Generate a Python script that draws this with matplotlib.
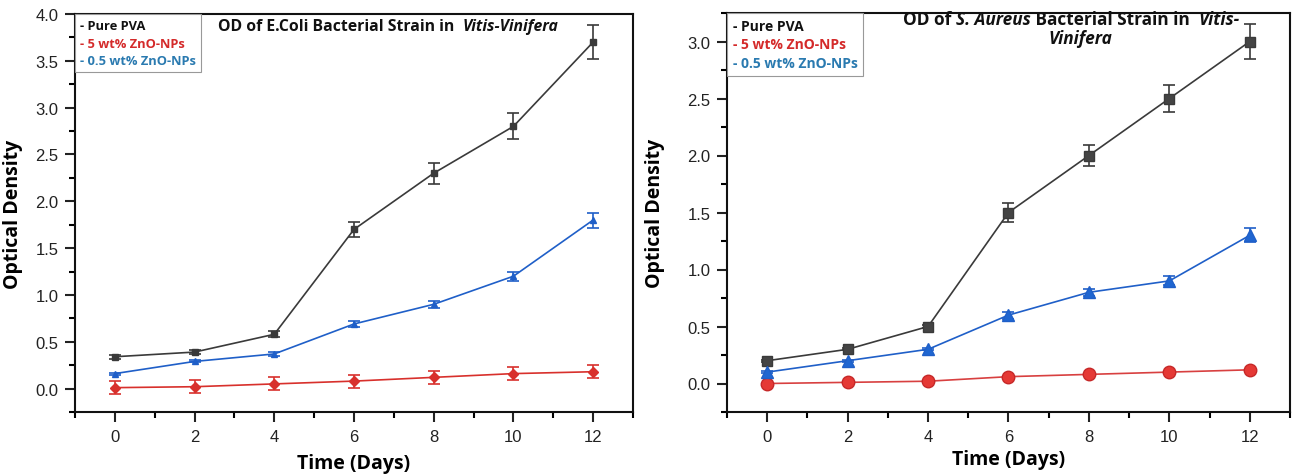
import matplotlib
matplotlib.use("Agg")
import matplotlib.pyplot as plt
from matplotlib.ticker import MultipleLocator

days = [0, 2, 4, 6, 8, 10, 12]

# E. coli
pva_ecoli = [0.34, 0.39, 0.58, 1.70, 2.30, 2.80, 3.70]
pva_ecoli_err = [0.02, 0.02, 0.03, 0.08, 0.11, 0.14, 0.18]
zno5_ecoli = [0.01, 0.02, 0.05, 0.08, 0.12, 0.16, 0.18]
zno5_ecoli_err = [0.07, 0.07, 0.07, 0.07, 0.07, 0.07, 0.07]
zno05_ecoli = [0.16, 0.29, 0.37, 0.69, 0.90, 1.20, 1.80]
zno05_ecoli_err = [0.01, 0.01, 0.02, 0.03, 0.04, 0.05, 0.08]

# S. aureus
pva_saureus = [0.20, 0.30, 0.50, 1.50, 2.00, 2.50, 3.00]
pva_saureus_err = [0.01, 0.01, 0.01, 0.08, 0.09, 0.12, 0.15]
zno5_saureus = [0.00, 0.01, 0.02, 0.06, 0.08, 0.10, 0.12]
zno5_saureus_err = [0.005, 0.005, 0.005, 0.005, 0.005, 0.005, 0.005]
zno05_saureus = [0.10, 0.20, 0.30, 0.60, 0.80, 0.90, 1.30]
zno05_saureus_err = [0.01, 0.01, 0.01, 0.03, 0.03, 0.04, 0.06]

labels = ["- Pure PVA", "- 5 wt% ZnO-NPs", "- 0.5 wt% ZnO-NPs"]
label_colors = ["#111111", "#d42a2a", "#2a7ab0"]

BLACK = "#3a3a3a"
RED = "#d8302c"
BLUE = "#1f5fc8"
BOLD = "Open Sans"
TICKF = "Liberation Sans"

W, H = 1293, 477
fig = plt.figure(figsize=(W / 100, H / 100), dpi=100)


def px(x0, y0, x1, y1):
    return [x0 / W, 1 - y1 / H, (x1 - x0) / W, (y1 - y0) / H]


def style_axes(ax, ylim, xpad):
    ax.set_xlim(-1, 13)
    ax.set_ylim(*ylim)
    ax.xaxis.set_major_locator(MultipleLocator(2))
    ax.xaxis.set_minor_locator(MultipleLocator(1))
    ax.yaxis.set_major_locator(MultipleLocator(0.5))
    ax.yaxis.set_minor_locator(MultipleLocator(0.25))
    ax.tick_params(which="major", direction="out", length=7, width=1.5,
                   labelsize=12, colors="#222222", pad=5)
    ax.tick_params(which="minor", direction="out", length=4, width=1.5)
    for lab in ax.get_xticklabels() + ax.get_yticklabels():
        lab.set_fontfamily(TICKF)
    for s in ax.spines.values():
        s.set_linewidth(1.5)
        s.set_color("#111111")
    ax.set_ylabel("Optical Density", fontfamily=BOLD, fontweight="bold",
                  fontsize=14, labelpad=4)
    ax.set_xlabel("Time (Days)", fontfamily=BOLD, fontweight="bold",
                  fontsize=14, labelpad=xpad)


def legend_box(ax, size):
    hs = [plt.Line2D([], [], lw=0) for _ in labels]
    leg = ax.legend(hs, labels, loc="upper left", handlelength=0,
                    handletextpad=0, borderaxespad=0, fancybox=False,
                    edgecolor="#999999", framealpha=1, borderpad=0.4,
                    labelspacing=0.35,
                    prop={"family": BOLD, "weight": "bold", "size": size})
    leg.get_frame().set_linewidth(0.8)
    for t, c in zip(leg.get_texts(), label_colors):
        t.set_color(c)


def chain_text(ax, x, y, parts, size):
    prev = None
    for txt, it in parts:
        kw = dict(fontfamily=BOLD, fontweight="bold", fontsize=size,
                  style="italic" if it else "normal", color="#111111",
                  annotation_clip=False)
        if prev is None:
            prev = ax.annotate(txt, xy=(x / W, 1 - y / H),
                               xycoords="figure fraction", ha="left",
                               va="center", **kw)
        else:
            prev = ax.annotate(txt, xy=(1, 0), xycoords=prev, ha="left",
                               va="bottom", **kw)


# left panel
ax1 = fig.add_axes(px(75, 15, 633, 413))
ax1.errorbar(days, pva_ecoli, yerr=pva_ecoli_err, color=BLACK, marker="s",
             ms=4, lw=1.2, capsize=4, elinewidth=1.2, capthick=1.2)
ax1.errorbar(days, zno5_ecoli, yerr=zno5_ecoli_err, color=RED, marker="D",
             ms=5, lw=1.2, capsize=4, elinewidth=1.2, capthick=1.2)
ax1.errorbar(days, zno05_ecoli, yerr=zno05_ecoli_err, color=BLUE, marker="^",
             ms=5, lw=1.2, capsize=4, elinewidth=1.2, capthick=1.2)
style_axes(ax1, (-0.25, 4.0), 7)
ax1.yaxis.set_label_coords(-0.094, 0.5)
legend_box(ax1, 9.3)
chain_text(ax1, 218, 27, [("OD of E.Coli Bacterial Strain in  ", False),
                          ("Vitis-Vinifera", True)], 11.3)

# right panel
ax2 = fig.add_axes(px(727, 14, 1290, 413))
ax2.errorbar(days, pva_saureus, yerr=pva_saureus_err, color=BLACK, marker="s",
             ms=7, mfc="#444444", lw=1.2, capsize=4, elinewidth=1.2,
             capthick=1.2)
ax2.errorbar(days, zno5_saureus, yerr=zno5_saureus_err, color="#d84040",
             marker="o", ms=9, mfc="#e53935", mec="#c62828", lw=1.2,
             capsize=0)
ax2.errorbar(days, zno05_saureus, yerr=zno05_saureus_err, color=BLUE,
             marker="^", ms=9, mfc="#1f66d1", lw=1.2, capsize=4,
             elinewidth=1.2, capthick=1.2)
style_axes(ax2, (-0.25, 3.25), 4)
ax2.yaxis.set_label_coords(-0.11, 0.5)
legend_box(ax2, 10)
chain_text(ax2, 903, 20, [("OD of ", False), ("S. Aureus", True),
                          (" Bacterial Strain in  ", False), ("Vitis-", True)],
           12.4)
ax2.annotate("Vinifera", xy=(1080 / W, 1 - 39 / H), xycoords="figure fraction",
             ha="center", va="center", fontfamily=BOLD, fontweight="bold",
             fontsize=12.4, style="italic", color="#111111")

fig.savefig("out.png", dpi=100)
